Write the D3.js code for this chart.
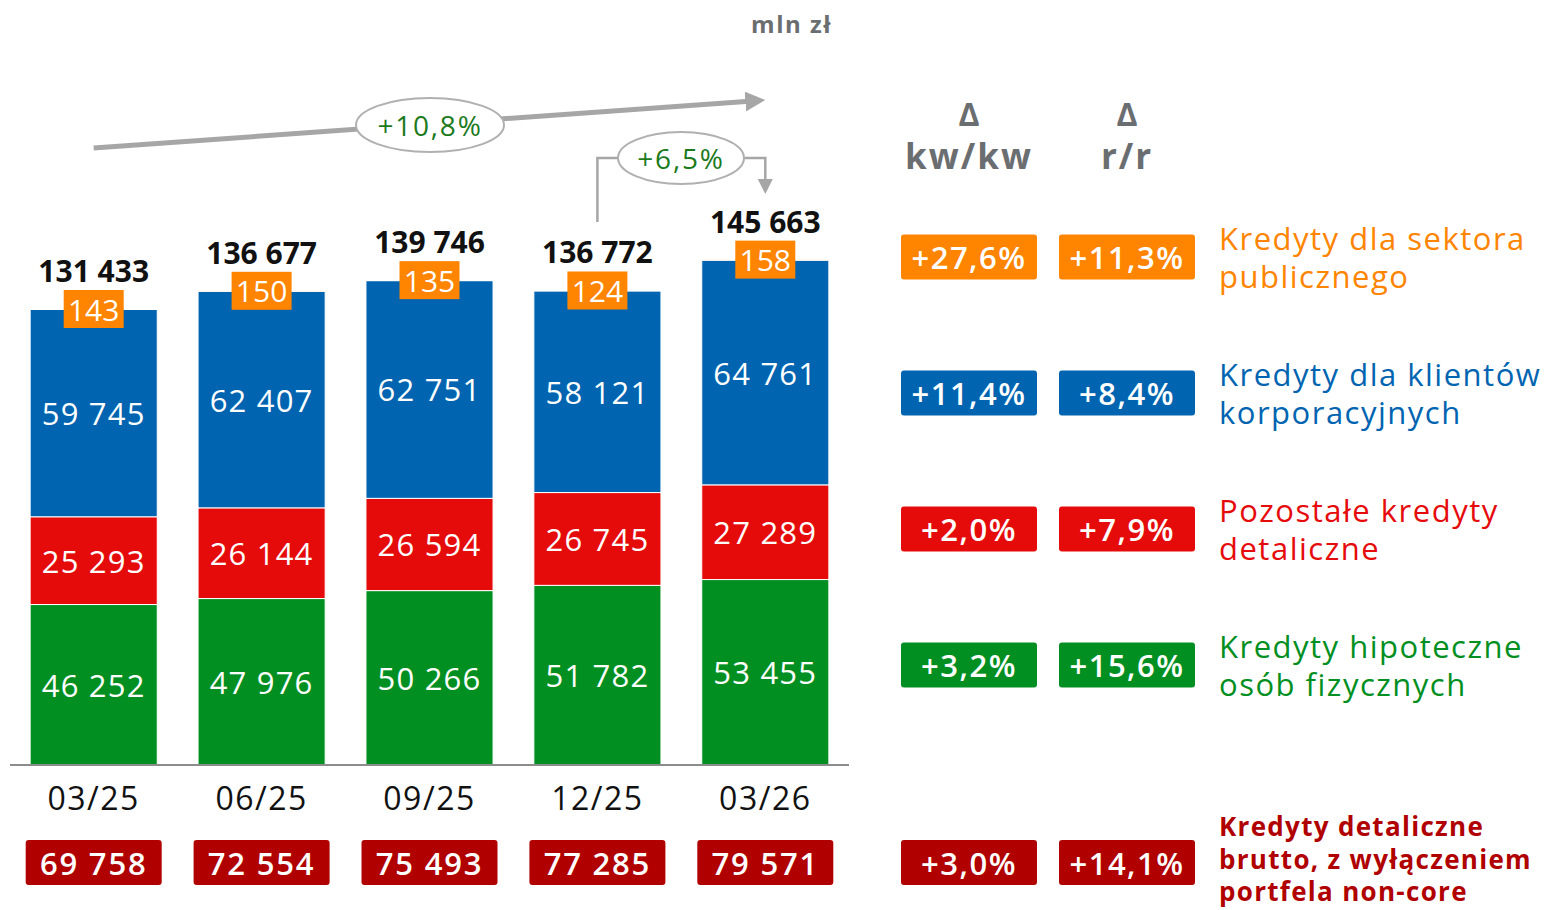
<!DOCTYPE html>
<html>
<head>
<meta charset="utf-8">
<script src="https://cdn.jsdelivr.net/npm/d3@7"></script>
<style>
	body { margin: 0; background: #fff; }
	svg text { font-family: "Open Sans", "Noto Sans", sans-serif; }
</style>
</head>
<body>
<div id="chart"></div>
<script>
var categories = ["03/25", "06/25", "09/25", "12/25", "03/26"];
var hipoteczne = [46252, 47976, 50266, 51782, 53455];
var pozostale = [25293, 26144, 26594, 26745, 27289];
var korporacyjne = [59745, 62407, 62751, 58121, 64761];
var publiczne = [143, 150, 135, 124, 158];
var detaliczneBrutto = [69758, 72554, 75493, 77285, 79571];

var legendNames = [
	["Kredyty dla sektora", "publicznego"],
	["Kredyty dla klientów", "korporacyjnych"],
	["Pozostałe kredyty", "detaliczne"],
	["Kredyty hipoteczne", "osób fizycznych"]
];
var changeQoQ = ["+27,6%", "+11,4%", "+2,0%", "+3,2%"];
var changeYoY = ["+11,3%", "+8,4%", "+7,9%", "+15,6%"];
var retailName = ["Kredyty detaliczne", "brutto, z wyłączeniem", "portfela non-core"];
var retailQoQ = "+3,0%";
var retailYoY = "+14,1%";
var growthYear = "+10,8%";
var growthQuarter = "+6,5%";

var colors = {
	green: "#028f22",
	red: "#e60b0b",
	blue: "#0064b1",
	orange: "#ff8400",
	darkRed: "#b00000",
	gray: "#a6a6a6",
	textGray: "#6b6e70",
	annot: "#1b7a1b"
};

var W = 1557, H = 910;
var baseY = 765;

var svg = d3.select("#chart").append("svg")
	.attr("width", W)
	.attr("height", H);

var fmt = function (v) {
	return d3.format(",")(v).replace(/,/g, " ");
};

var xScale = d3.scaleBand()
	.domain(categories)
	.range([10, 849])
	.paddingInner(0.243)
	.paddingOuter(0.12);

var yScale = d3.scaleLinear()
	.domain([0, 150000])
	.range([baseY, baseY - 150000 * 456 / 131433]);

var seriesKeys = ["hip", "poz", "korp", "pub"];
var seriesColors = [colors.green, colors.red, colors.blue, colors.orange];
var rows = categories.map(function (c, i) {
	return { cat: c, hip: hipoteczne[i], poz: pozostale[i], korp: korporacyjne[i], pub: publiczne[i] };
});
var stacked = d3.stack().keys(seriesKeys)(rows);
var totals = rows.map(function (r) { return r.hip + r.poz + r.korp + r.pub; });

// bars
var layers = svg.append("g").selectAll("g.layer")
	.data(stacked).enter()
	.append("g")
	.attr("fill", function (d, i) { return seriesColors[i]; });

layers.selectAll("rect")
	.data(function (d) { return d; }).enter()
	.append("rect")
	.attr("x", function (d) { return xScale(d.data.cat); })
	.attr("width", xScale.bandwidth())
	.attr("y", function (d) { return yScale(d[1]); })
	.attr("height", function (d) { return yScale(d[0]) - yScale(d[1]); })
	.attr("stroke", "#fff")
	.attr("stroke-width", 1);

// segment labels (three big series)
var cx = function (c) { return xScale(c) + xScale.bandwidth() / 2; };
stacked.slice(0, 3).forEach(function (layer) {
	svg.append("g").selectAll("text")
		.data(layer).enter()
		.append("text")
		.attr("x", function (d) { return cx(d.data.cat); })
		.attr("y", function (d) { return (yScale(d[0]) + yScale(d[1])) / 2; })
		.attr("text-anchor", "middle")
		.attr("dominant-baseline", "central")
		.attr("fill", "#fff")
		.attr("font-size", 31)
		.attr("letter-spacing", 1.2)
		.text(function (d) { return fmt(d[1] - d[0]); });
});

// public sector boxes on top of bars
var pubG = svg.append("g");
pubG.selectAll("rect")
	.data(categories).enter()
	.append("rect")
	.attr("x", function (c) { return cx(c) - 30; })
	.attr("y", function (c, i) { return yScale(totals[i]) - 19; })
	.attr("width", 60)
	.attr("height", 38)
	.attr("fill", colors.orange);
pubG.selectAll("text")
	.data(categories).enter()
	.append("text")
	.attr("x", function (c) { return cx(c); })
	.attr("y", function (c, i) { return yScale(totals[i]); })
	.attr("text-anchor", "middle")
	.attr("dominant-baseline", "central")
	.attr("fill", "#fff")
	.attr("font-size", 30)
	.text(function (c, i) { return publiczne[i]; });

// totals
svg.append("g").selectAll("text")
	.data(categories).enter()
	.append("text")
	.attr("x", function (c) { return cx(c); })
	.attr("y", function (c, i) { return yScale(totals[i]) - 27; })
	.attr("text-anchor", "middle")
	.attr("fill", "#111")
	.attr("font-size", 30)
	.attr("font-weight", 700)
	.text(function (c, i) { return fmt(totals[i]); });

// x axis
var xAxis = d3.axisBottom(xScale).tickSize(0).tickPadding(22);
var axisG = svg.append("g")
	.attr("transform", "translate(0," + baseY + ")")
	.call(xAxis);
axisG.select(".domain").attr("stroke", "#8c8c8c").attr("stroke-width", 2)
	.attr("d", "M10,0H849");
axisG.selectAll(".tick text")
	.attr("font-size", 32)
	.attr("fill", "#111")
	.attr("font-family", "'Open Sans', sans-serif")
	.attr("letter-spacing", 1.5)
	.attr("dy", "0.71em");

// retail excl. non-core boxes
var retailG = svg.append("g");
retailG.selectAll("rect")
	.data(categories).enter()
	.append("rect")
	.attr("x", function (c) { return cx(c) - 68; })
	.attr("y", 840)
	.attr("width", 136)
	.attr("height", 45)
	.attr("rx", 3)
	.attr("fill", colors.darkRed);
retailG.selectAll("text")
	.data(categories).enter()
	.append("text")
	.attr("x", function (c) { return cx(c); })
	.attr("y", 862.5)
	.attr("text-anchor", "middle")
	.attr("dominant-baseline", "central")
	.attr("fill", "#fff")
	.attr("font-size", 31)
	.attr("font-weight", 600)
	.attr("letter-spacing", 1.8)
	.text(function (c, i) { return fmt(detaliczneBrutto[i]); });

// unit
svg.append("text")
	.attr("x", 832).attr("y", 33)
	.attr("text-anchor", "end")
	.attr("fill", colors.textGray)
	.attr("font-size", 24)
	.attr("font-weight", 700)
	.attr("letter-spacing", 1.5)
	.text("mln zł");

// annotation arrows
var defs = svg.append("defs");
defs.append("marker")
	.attr("id", "headBig")
	.attr("viewBox", "0 0 10 10")
	.attr("refX", 2).attr("refY", 5)
	.attr("markerWidth", 4).attr("markerHeight", 4)
	.attr("orient", "auto")
	.append("path").attr("d", "M0,0L10,5L0,10z").attr("fill", colors.gray);
defs.append("marker")
	.attr("id", "headSmall")
	.attr("viewBox", "0 0 10 10")
	.attr("refX", 2).attr("refY", 5)
	.attr("markerWidth", 6).attr("markerHeight", 6)
	.attr("orient", "auto")
	.append("path").attr("d", "M0,0L10,5L0,10z").attr("fill", colors.gray);

var x0 = cx(categories[0]), x3 = cx(categories[3]), x4 = cx(categories[4]);
svg.append("line")
	.attr("x1", x0).attr("y1", 148)
	.attr("x2", x4 - 16).attr("y2", 101.2)
	.attr("stroke", colors.gray)
	.attr("stroke-width", 5)
	.attr("marker-end", "url(#headBig)");
svg.append("ellipse")
	.attr("cx", 430).attr("cy", 125)
	.attr("rx", 74).attr("ry", 27)
	.attr("fill", "#fff")
	.attr("stroke", "#b0b0b0")
	.attr("stroke-width", 2);
svg.append("text")
	.attr("x", 430).attr("y", 125)
	.attr("text-anchor", "middle")
	.attr("dominant-baseline", "central")
	.attr("fill", colors.annot)
	.attr("font-size", 28)
	.attr("letter-spacing", 1.8)
	.text(growthYear);

svg.append("path")
	.attr("d", "M" + x3 + "," + 222 + "V158H" + x4 + "V182")
	.attr("fill", "none")
	.attr("stroke", colors.gray)
	.attr("stroke-width", 2.5)
	.attr("marker-end", "url(#headSmall)");
svg.append("ellipse")
	.attr("cx", 681).attr("cy", 158)
	.attr("rx", 63).attr("ry", 26)
	.attr("fill", "#fff")
	.attr("stroke", "#b0b0b0")
	.attr("stroke-width", 2);
svg.append("text")
	.attr("x", 681).attr("y", 158)
	.attr("text-anchor", "middle")
	.attr("dominant-baseline", "central")
	.attr("fill", colors.annot)
	.attr("font-size", 28)
	.attr("letter-spacing", 1.8)
	.text(growthQuarter);

// right-hand table
var col1 = 969, col2 = 1127, labelX = 1219;
[[col1, "kw/kw"], [col2, "r/r"]].forEach(function (h) {
	svg.append("text")
		.attr("x", h[0]).attr("y", 126)
		.attr("text-anchor", "middle")
		.attr("fill", colors.textGray)
		.attr("font-size", 32)
		.attr("font-weight", 700)
		.text("Δ");
	svg.append("text")
		.attr("x", h[0]).attr("y", 169)
		.attr("text-anchor", "middle")
		.attr("fill", colors.textGray)
		.attr("font-size", 35)
		.attr("font-weight", 700)
		.attr("letter-spacing", 2)
		.text(h[1]);
});

var rowY = d3.scalePoint()
	.domain(d3.range(4))
	.range([257, 665]);
var legendColors = [colors.orange, colors.blue, colors.red, colors.green];

function badge(x, y, color, label) {
	svg.append("rect")
		.attr("x", x - 68).attr("y", y - 22.5)
		.attr("width", 136).attr("height", 45)
		.attr("rx", 3)
		.attr("fill", color);
	svg.append("text")
		.attr("x", x).attr("y", y)
		.attr("text-anchor", "middle")
		.attr("dominant-baseline", "central")
		.attr("fill", "#fff")
		.attr("font-size", 31)
		.attr("font-weight", 600)
		.attr("letter-spacing", 1.5)
		.text(label);
}

d3.range(4).forEach(function (i) {
	var y = rowY(i);
	badge(col1, y, legendColors[i], changeQoQ[i]);
	badge(col2, y, legendColors[i], changeYoY[i]);
	svg.append("text")
		.attr("x", labelX).attr("y", y - 19)
		.attr("dominant-baseline", "central")
		.attr("fill", legendColors[i])
		.attr("font-size", 31)
		.attr("letter-spacing", 1.5)
		.text(legendNames[i][0]);
	svg.append("text")
		.attr("x", labelX).attr("y", y + 19)
		.attr("dominant-baseline", "central")
		.attr("fill", legendColors[i])
		.attr("font-size", 31)
		.attr("letter-spacing", 1.5)
		.text(legendNames[i][1]);
});

badge(col1, 862.5, colors.darkRed, retailQoQ);
badge(col2, 862.5, colors.darkRed, retailYoY);
retailName.forEach(function (line, i) {
	svg.append("text")
		.attr("x", labelX).attr("y", 826 + i * 32.5)
		.attr("dominant-baseline", "central")
		.attr("fill", colors.darkRed)
		.attr("font-size", 26)
		.attr("font-weight", 700)
		.attr("letter-spacing", 1.3)
		.text(line);
});
</script>
</body>
</html>
